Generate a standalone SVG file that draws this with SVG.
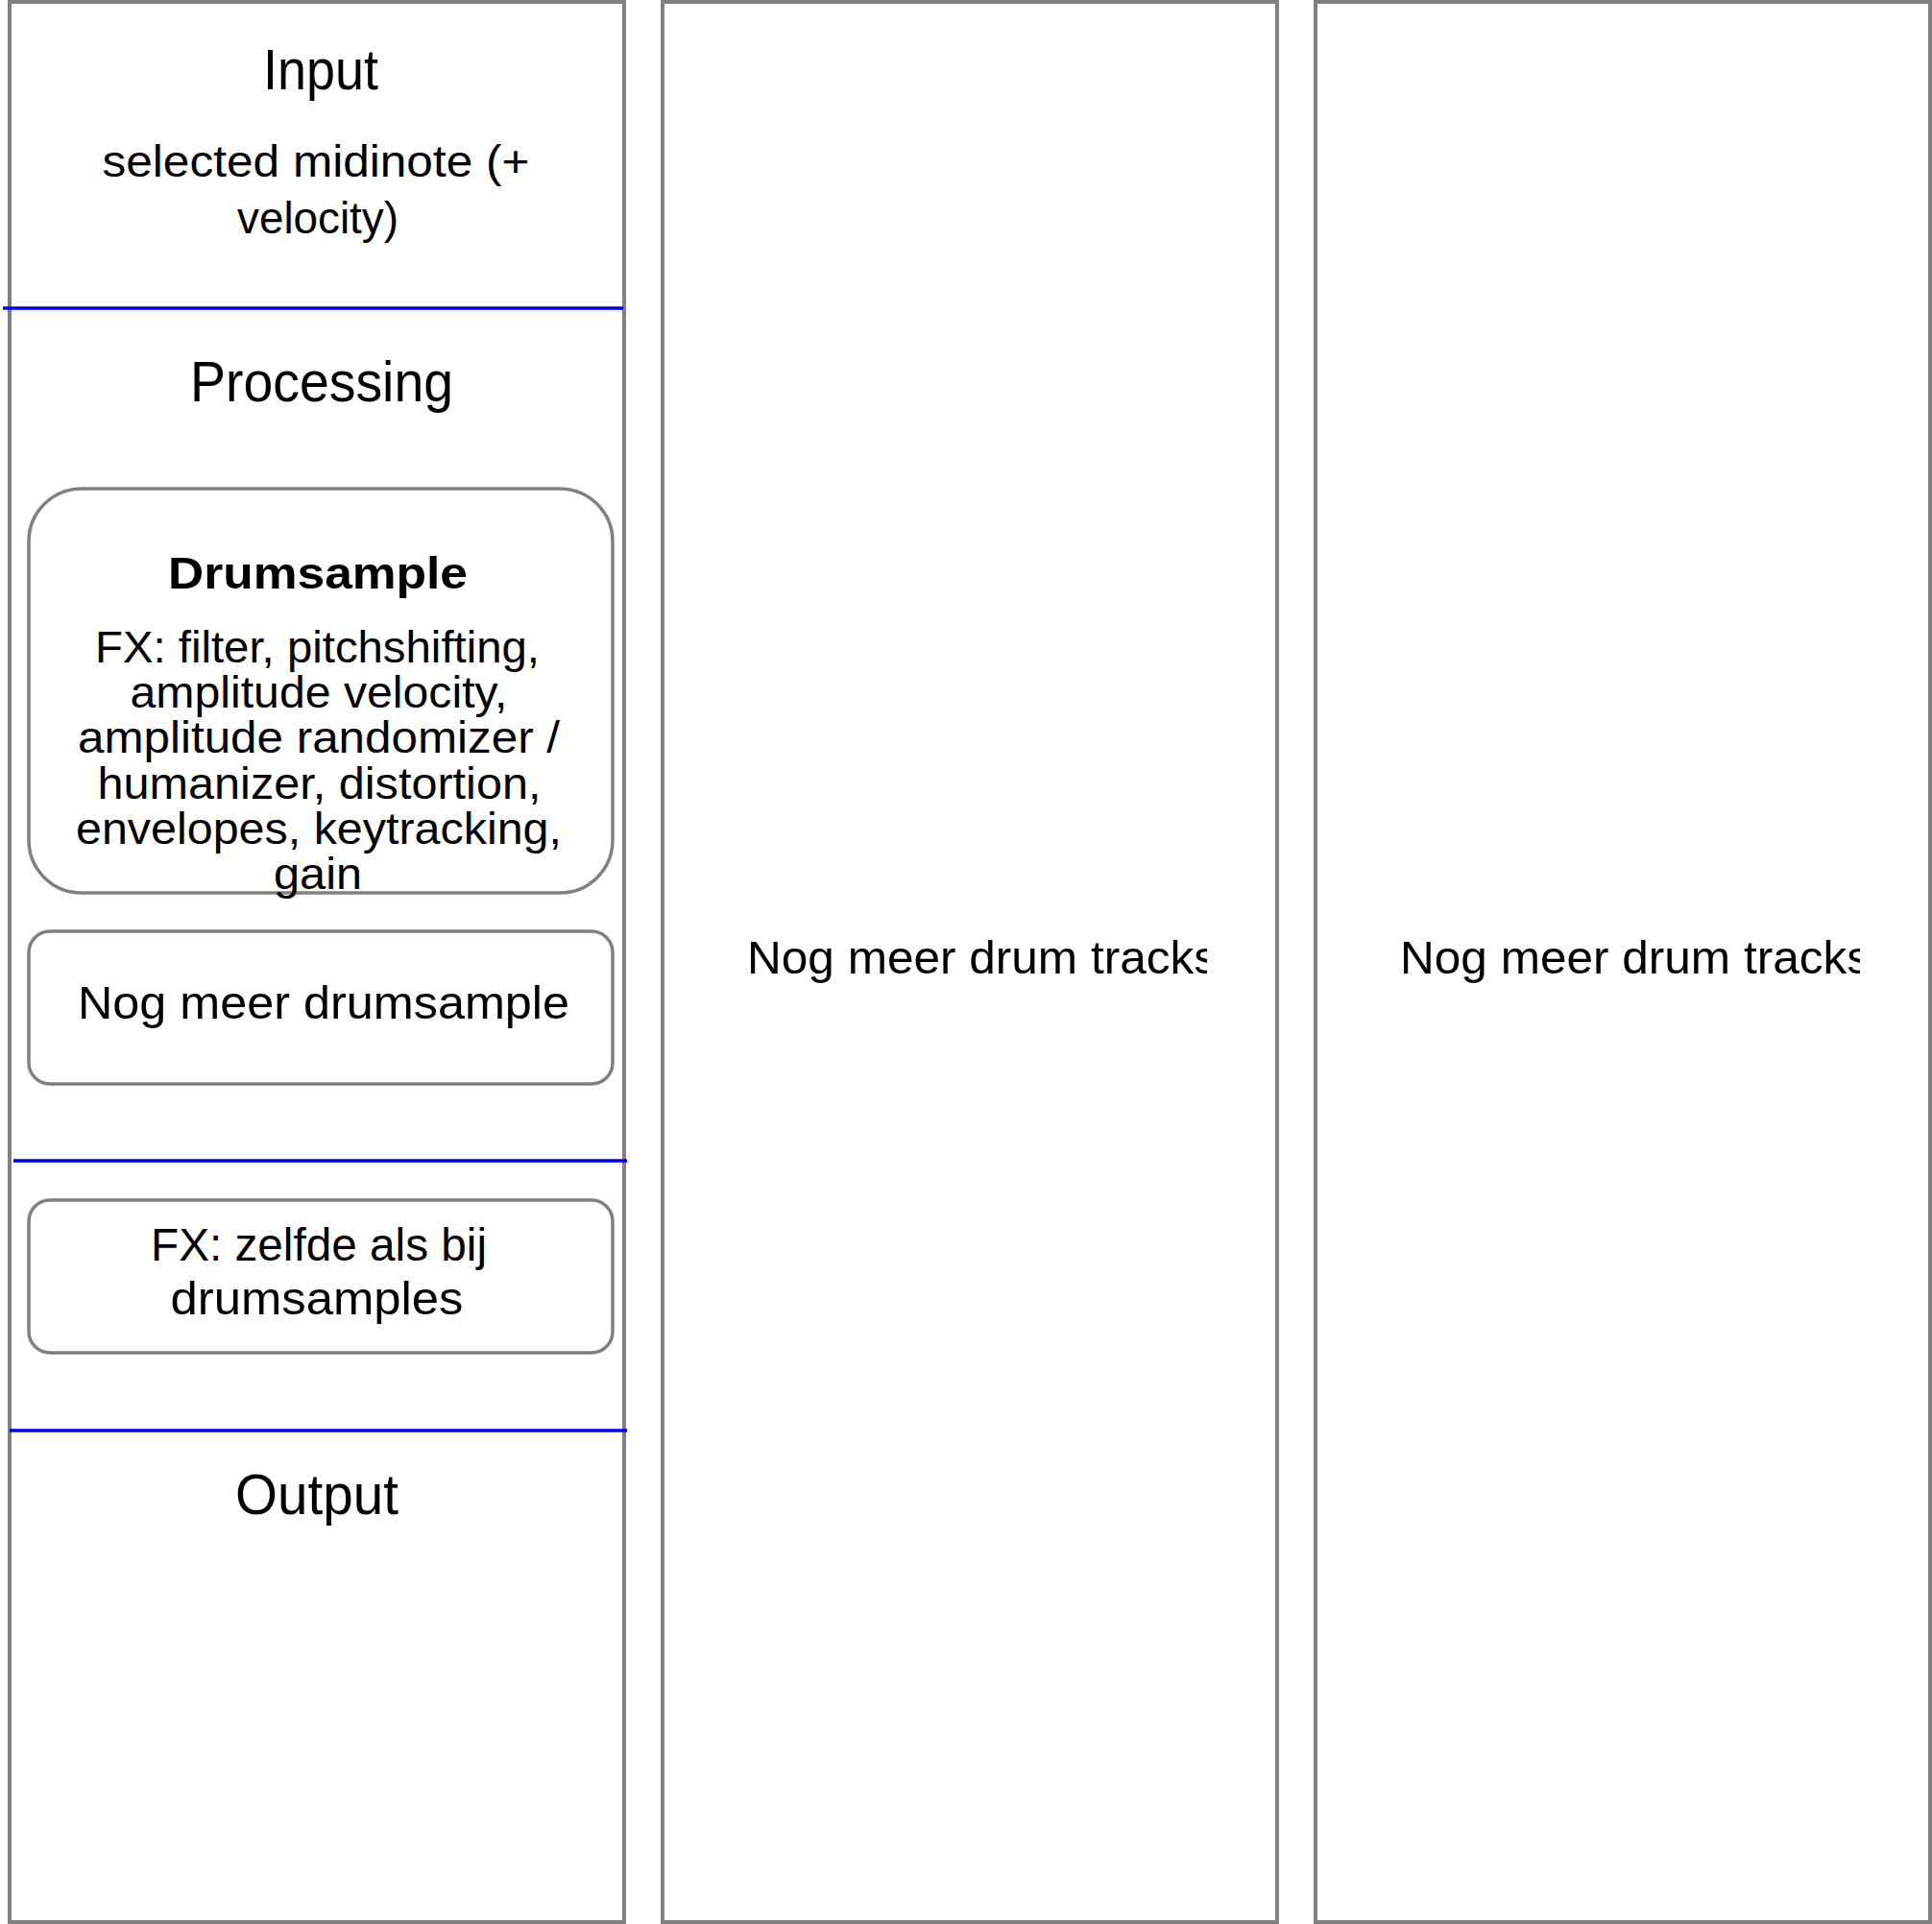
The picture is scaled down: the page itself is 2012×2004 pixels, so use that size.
<svg xmlns="http://www.w3.org/2000/svg" width="2012" height="2004" viewBox="0 0 2012 2004">
  <style>
    .col { fill: #ffffff; stroke: #808080; stroke-width: 4; }
    .node { fill: #ffffff; stroke: #808080; stroke-width: 3.5; }
    .sep { stroke: #0000ff; stroke-width: 3.5; }
    text { font-family: "Liberation Sans", Arial, sans-serif; fill: #000000; text-anchor: middle; }
    .h { font-size: 60px; }
    .b { font-size: 46px; }
    .bold { font-size: 46px; font-weight: bold; }
    .m { font-size: 48px; }
  </style>
  <defs>
    <clipPath id="clipMid"><rect x="690" y="0" width="567" height="2004"/></clipPath>
    <clipPath id="clipRight"><rect x="1370" y="0" width="567" height="2004"/></clipPath>
  </defs>
  <rect x="0" y="0" width="2012" height="2004" fill="#ffffff"/>

  <g id="column-left">
    <rect class="col" x="10" y="2" width="640" height="2000"/>
    <text class="h" x="334" y="92.5" textLength="120" lengthAdjust="spacingAndGlyphs">Input</text>
    <text class="b" x="329" y="184" textLength="445" lengthAdjust="spacingAndGlyphs">selected midinote (+</text>
    <text class="b" x="331" y="242.5" textLength="168" lengthAdjust="spacingAndGlyphs">velocity)</text>
    <text class="h" x="335" y="418" textLength="274" lengthAdjust="spacingAndGlyphs">Processing</text>
    <text class="h" x="330" y="1577" textLength="170" lengthAdjust="spacingAndGlyphs">Output</text>
  </g>

  <g id="column-middle">
    <rect class="col" x="690" y="2" width="640" height="2000"/>
    <text class="m" x="778" y="1014" style="text-anchor:start" textLength="490" lengthAdjust="spacingAndGlyphs" clip-path="url(#clipMid)">Nog meer drum tracks</text>
  </g>

  <g id="column-right">
    <rect class="col" x="1370" y="2" width="640" height="2000"/>
    <text class="m" x="1458" y="1014" style="text-anchor:start" textLength="490" lengthAdjust="spacingAndGlyphs" clip-path="url(#clipRight)">Nog meer drum tracks</text>
  </g>

  <g id="connectors">
    <line class="sep" x1="3" y1="321" x2="649" y2="321"/>
    <line class="sep" x1="14" y1="1209" x2="653" y2="1209"/>
    <line class="sep" x1="10" y1="1490" x2="653" y2="1490"/>
  </g>

  <g id="node-drumsample">
    <rect class="node" x="30" y="509" width="608" height="421" rx="55" ry="55"/>
    <text class="bold" x="331" y="613" textLength="312" lengthAdjust="spacingAndGlyphs">Drumsample</text>
    <text class="b" x="330.5" y="689.5" textLength="463" lengthAdjust="spacingAndGlyphs">FX: filter, pitchshifting,</text>
    <text class="b" x="332" y="737" textLength="393" lengthAdjust="spacingAndGlyphs">amplitude velocity,</text>
    <text class="b" x="332" y="784" textLength="502" lengthAdjust="spacingAndGlyphs">amplitude randomizer /</text>
    <text class="b" x="332.5" y="831.5" textLength="462" lengthAdjust="spacingAndGlyphs">humanizer, distortion,</text>
    <text class="b" x="332" y="879" textLength="506" lengthAdjust="spacingAndGlyphs">envelopes, keytracking,</text>
    <text class="b" x="331" y="926" textLength="92" lengthAdjust="spacingAndGlyphs">gain</text>
  </g>

  <g id="node-more-drumsample">
    <rect class="node" x="30" y="970" width="608" height="159" rx="22" ry="22"/>
    <text class="m" x="337" y="1061" textLength="512" lengthAdjust="spacingAndGlyphs">Nog meer drumsample</text>
  </g>

  <g id="node-fx">
    <rect class="node" x="30" y="1250" width="608" height="159" rx="22" ry="22"/>
    <text class="m" x="332" y="1313" textLength="350" lengthAdjust="spacingAndGlyphs">FX: zelfde als bij</text>
    <text class="m" x="330" y="1368.5" textLength="305" lengthAdjust="spacingAndGlyphs">drumsamples</text>
  </g>
</svg>
